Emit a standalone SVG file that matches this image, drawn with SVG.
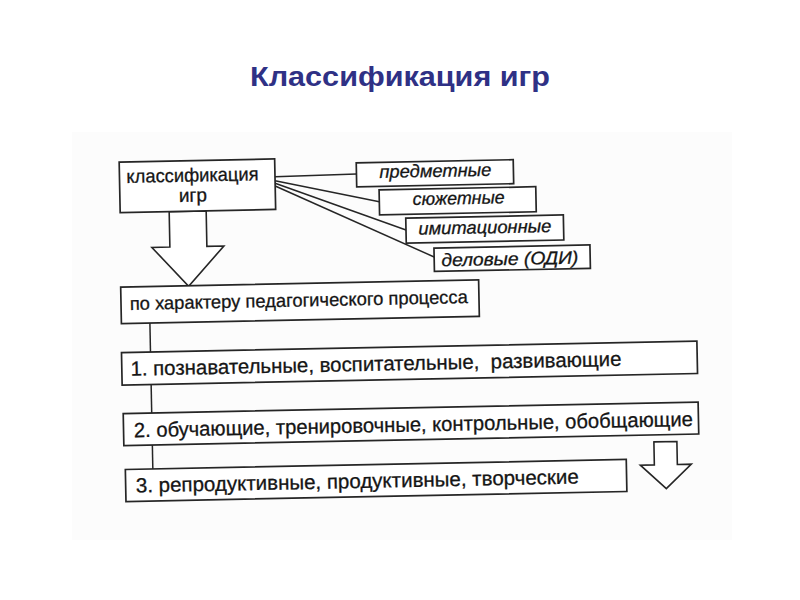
<svg xmlns="http://www.w3.org/2000/svg" width="800" height="600" viewBox="0 0 800 600">
<style>
.box{fill:#ffffff;stroke:#262626;stroke-width:1.7}
.ln{fill:none;stroke:#262626;stroke-width:1.5}
.harrow{fill:#ffffff;stroke:#262626;stroke-width:1.6;stroke-linejoin:miter}
.t{font-family:"Liberation Sans",Arial,sans-serif;fill:#151515;stroke:#151515;stroke-width:0.3}
.it{font-family:"Liberation Sans",Arial,sans-serif;font-style:italic;fill:#151515;stroke:#151515;stroke-width:0.3}
.title{font-family:"Liberation Sans",Arial,sans-serif;font-weight:bold;font-size:28px;fill:#2f3185}
</style>
<rect x="0" y="0" width="800" height="600" fill="#ffffff"/>
<rect x="72" y="132" width="660" height="408" fill="#fcfcfc"/>
<text id="title" class="title" x="400" y="86" text-anchor="middle" textLength="300" lengthAdjust="spacingAndGlyphs">Классификация игр</text>
<g transform="rotate(-1.15 400 400)">
<g id="connectors">
<line class="ln" x1="279.5" y1="174.2" x2="361" y2="173.1"/>
<line class="ln" x1="279.5" y1="178.2" x2="383.3" y2="201.3"/>
<line class="ln" x1="279.5" y1="180.8" x2="409.4" y2="230.1"/>
<line class="ln" x1="279.5" y1="183.5" x2="437" y2="257.7"/>
<line class="ln" x1="151.5" y1="318" x2="151.5" y2="347"/>
<line class="ln" x1="151.5" y1="379.5" x2="151.5" y2="408"/>
<line class="ln" x1="151.5" y1="440" x2="151.5" y2="464"/>
<polygon class="harrow" points="173,207 210,207 210,242.5 227,242.5 191,282 155,242.5 173,242.5"/>
<polygon class="harrow" points="653,447 676,447 676,470 690,470 664.5,494 639,470 653,470"/>
</g>
<g id="node-root">
<rect class="box" x="124" y="156.5" width="155.5" height="50.5"/>
<text class="t" x="197" y="177.5" font-size="19" text-anchor="middle" textLength="132" lengthAdjust="spacingAndGlyphs">классификация</text>
<text class="t" x="197" y="197.5" font-size="19" text-anchor="middle">игр</text>
</g>
<g id="node-predmetnye">
<rect class="box" x="361" y="162" width="157" height="24"/>
<text class="it" x="440" y="177.6" font-size="18" text-anchor="middle" textLength="112" lengthAdjust="spacingAndGlyphs">предметные</text>
</g>
<g id="node-syuzhetnye">
<rect class="box" x="383.3" y="189.5" width="156.7" height="25"/>
<text class="it" x="462.7" y="205.4" font-size="18" text-anchor="middle" textLength="92" lengthAdjust="spacingAndGlyphs">сюжетные</text>
</g>
<g id="node-imitatsionnye">
<rect class="box" x="409.4" y="218.3" width="157.6" height="25"/>
<text class="it" x="488.3" y="235.2" font-size="18" text-anchor="middle" textLength="133" lengthAdjust="spacingAndGlyphs">имитационные</text>
</g>
<g id="node-delovye">
<rect class="box" x="437" y="248.8" width="156" height="23.4"/>
<text class="it" x="512.7" y="267.2" font-size="18" text-anchor="middle" textLength="137" lengthAdjust="spacingAndGlyphs">деловые (ОДИ)</text>
</g>
<g id="node-character">
<rect class="box" x="123" y="281.5" width="358" height="36.5"/>
<text class="t" x="131.8" y="304.5" font-size="18.5" textLength="338" lengthAdjust="spacingAndGlyphs">по характеру педагогического процесса</text>
</g>
<g id="node-1">
<rect class="box" x="122.5" y="347" width="575.5" height="32.5"/>
<text class="t" x="131.2" y="370.3" font-size="20.5" textLength="491" lengthAdjust="spacingAndGlyphs" xml:space="preserve">1. познавательные, воспитательные,  развивающие</text>
</g>
<g id="node-2">
<rect class="box" x="123" y="408" width="575" height="32"/>
<text class="t" x="133.3" y="431.8" font-size="20.5" textLength="559" lengthAdjust="spacingAndGlyphs">2. обучающие, тренировочные, контрольные, обобщающие</text>
</g>
<g id="node-3">
<rect class="box" x="124" y="464" width="501" height="32"/>
<text class="t" x="134.2" y="487.2" font-size="20.5" textLength="443" lengthAdjust="spacingAndGlyphs">3. репродуктивные, продуктивные, творческие</text>
</g>
</g>
</svg>
